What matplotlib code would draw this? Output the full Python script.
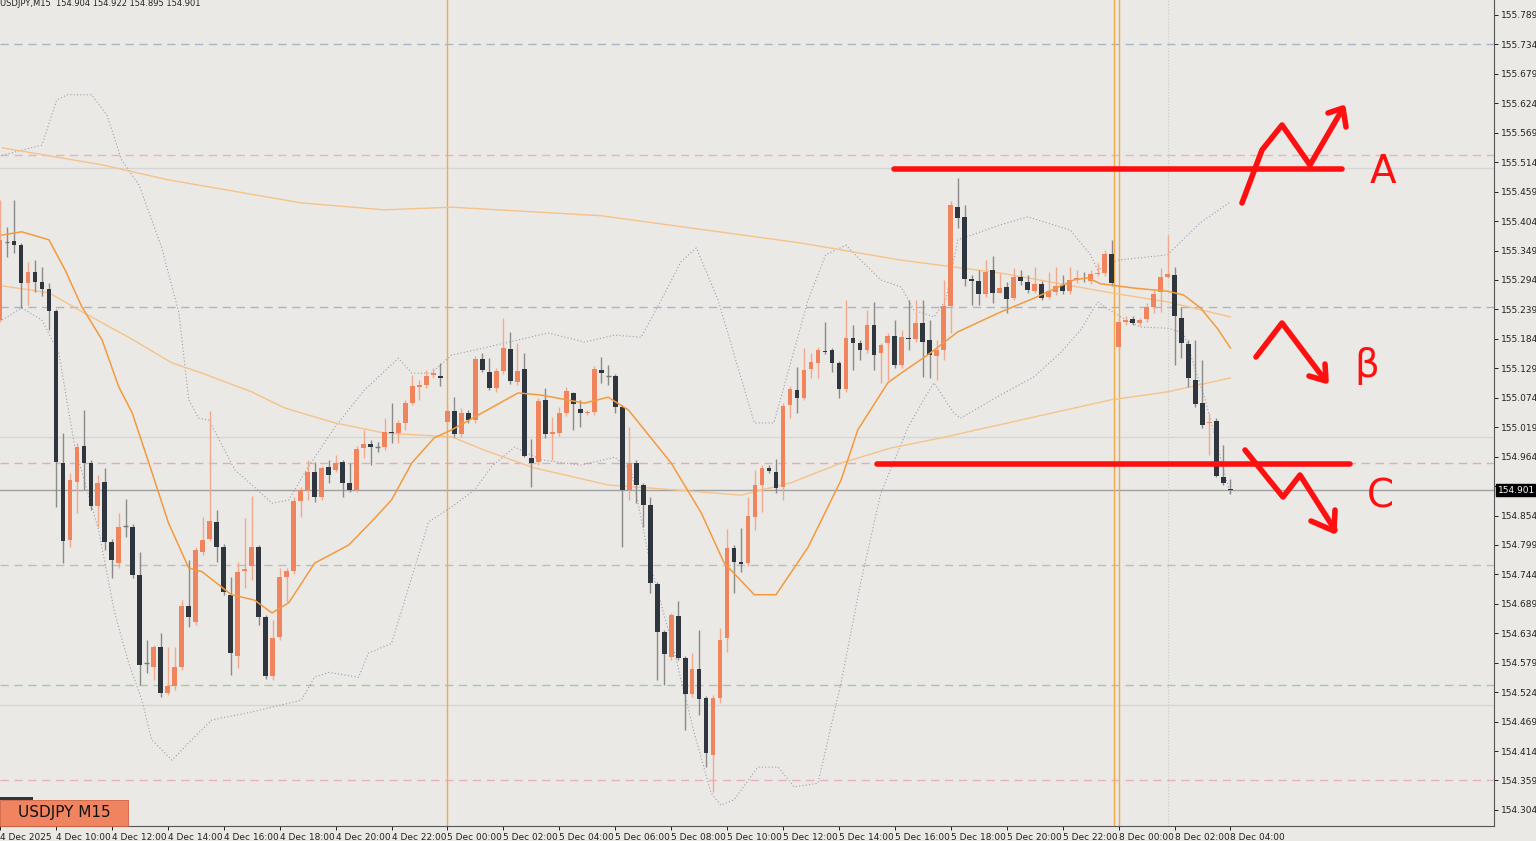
import matplotlib
matplotlib.use('Agg')
import matplotlib.pyplot as plt
import numpy as np

BG = '#EBE9E5'
BULL = '#F0845C'
BEAR = '#2F363E'
BULL_WICK = '#F2A88C'
BEAR_WICK = '#8A8A8A'
RED = '#FF1010'

# ── OHLC, 15-minute bars from 4 Dec 08:00 ────────────────────────────────────
opens = [155.219, 155.365, 155.367, 155.359, 155.288, 155.309, 155.290, 155.277, 155.236, 154.952,
         154.808, 154.917, 154.984, 154.952, 154.872, 154.917, 154.805, 154.765, 154.834, 154.833,
         154.743, 154.579, 154.571, 154.608, 154.522, 154.536, 154.571, 154.685, 154.655, 154.786,
         154.810, 154.842, 154.795, 154.706, 154.592, 154.750, 154.760, 154.795, 154.664, 154.554,
         154.627, 154.739, 154.750, 154.881, 154.902, 154.935, 154.889, 154.945, 154.939, 154.954,
         154.915, 154.902, 154.980, 154.988, 154.982, 154.982, 155.010, 155.008, 155.027, 155.064,
         155.094, 155.098, 155.116, 155.115, 155.029, 155.049, 155.006, 155.046, 155.032, 155.146,
         155.122, 155.092, 155.124, 155.165, 155.103, 155.128, 154.961, 154.954, 155.070, 155.006,
         155.008, 155.046, 155.083, 155.053, 155.046, 155.047, 155.126, 155.115, 155.115, 155.057,
         154.902, 154.952, 154.911, 154.874, 154.726, 154.636, 154.590, 154.666, 154.588, 154.521,
         154.567, 154.513, 154.407, 154.513, 154.625, 154.793, 154.767, 154.765, 154.851, 154.911,
         154.943, 154.935, 154.907, 155.060, 155.088, 155.074, 155.128, 155.139, 155.161, 155.163,
         155.139, 155.090, 155.186, 155.176, 155.163, 155.210, 155.158, 155.176, 155.189, 155.135,
         155.186, 155.184, 155.214, 155.182, 155.152, 155.163, 155.245, 155.430, 155.412, 155.296,
         155.292, 155.268, 155.313, 155.270, 155.281, 155.260, 155.300, 155.290, 155.273, 155.287,
         155.262, 155.272, 155.285, 155.273, 155.294, 155.298, 155.292, 155.305, 155.307, 155.343,
         155.169, 155.216, 155.221, 155.214, 155.221, 155.244, 155.272, 155.300, 155.303, 155.223,
         155.174, 155.107, 155.064, 155.027, 155.031, 154.926, 154.904]
closes = [155.369, 155.365, 155.359, 155.288, 155.309, 155.290, 155.277, 155.236, 154.954, 154.806,
          154.920, 154.982, 154.952, 154.872, 154.915, 154.805, 154.771, 154.833, 154.834, 154.743,
          154.575, 154.579, 154.608, 154.522, 154.536, 154.571, 154.685, 154.664, 154.790, 154.808,
          154.844, 154.795, 154.711, 154.597, 154.749, 154.754, 154.795, 154.664, 154.554, 154.625,
          154.739, 154.750, 154.881, 154.902, 154.935, 154.889, 154.943, 154.930, 154.952, 154.915,
          154.902, 154.978, 154.988, 154.982, 154.982, 155.010, 155.008, 155.027, 155.064, 155.096,
          155.098, 155.115, 155.120, 155.111, 155.049, 155.006, 155.046, 155.032, 155.146, 155.126,
          155.092, 155.124, 155.167, 155.105, 155.124, 154.965, 154.952, 155.068, 155.006, 155.010,
          155.046, 155.087, 155.062, 155.046, 155.047, 155.128, 155.120, 155.115, 155.057, 154.902,
          154.952, 154.911, 154.874, 154.728, 154.636, 154.595, 154.668, 154.588, 154.521, 154.567,
          154.511, 154.410, 154.513, 154.621, 154.793, 154.767, 154.763, 154.853, 154.911, 154.943,
          154.937, 154.905, 155.059, 155.090, 155.074, 155.126, 155.141, 155.163, 155.160, 155.139,
          155.090, 155.186, 155.176, 155.163, 155.210, 155.154, 155.173, 155.189, 155.135, 155.188,
          155.184, 155.214, 155.178, 155.154, 155.163, 155.245, 155.434, 155.410, 155.296, 155.292,
          155.268, 155.309, 155.270, 155.279, 155.258, 155.300, 155.292, 155.275, 155.287, 155.260,
          155.273, 155.283, 155.273, 155.294, 155.298, 155.296, 155.305, 155.307, 155.343, 155.288,
          155.216, 155.219, 155.214, 155.219, 155.244, 155.268, 155.300, 155.305, 155.227, 155.176,
          155.111, 155.062, 155.023, 155.029, 154.928, 154.915, 154.901]
highs = [155.443, 155.393, 155.443, 155.363, 155.328, 155.331, 155.318, 155.288, 155.240, 155.008,
         154.933, 154.989, 155.051, 154.958, 154.930, 154.943, 154.810, 154.859, 154.885, 154.838,
         154.786, 154.621, 154.612, 154.635, 154.608, 154.608, 154.696, 154.771, 154.795, 154.851,
         155.049, 154.864, 154.801, 154.739, 154.767, 154.849, 154.890, 154.799, 154.668, 154.659,
         154.756, 154.756, 154.889, 154.907, 154.958, 154.954, 154.947, 154.958, 154.967, 154.958,
         154.952, 154.984, 155.014, 154.995, 154.991, 155.036, 155.064, 155.032, 155.070, 155.116,
         155.107, 155.126, 155.130, 155.139, 155.060, 155.075, 155.055, 155.051, 155.152, 155.158,
         155.148, 155.130, 155.223, 155.197, 155.176, 155.158, 154.997, 155.074, 155.092, 155.038,
         155.057, 155.094, 155.085, 155.070, 155.051, 155.133, 155.150, 155.135, 155.118, 155.060,
         155.019, 154.958, 154.915, 154.889, 154.730, 154.640, 154.672, 154.694, 154.592, 154.597,
         154.640, 154.517, 154.519, 154.644, 154.829, 154.799, 154.831, 154.889, 154.939, 154.948,
         154.948, 154.960, 155.064, 155.096, 155.131, 155.167, 155.158, 155.169, 155.216, 155.167,
         155.143, 155.257, 155.210, 155.182, 155.238, 155.253, 155.176, 155.195, 155.219, 155.201,
         155.257, 155.257, 155.257, 155.219, 155.182, 155.294, 155.442, 155.485, 155.434, 155.303,
         155.313, 155.331, 155.339, 155.307, 155.290, 155.316, 155.313, 155.303, 155.318, 155.292,
         155.309, 155.318, 155.303, 155.318, 155.313, 155.309, 155.313, 155.326, 155.350, 155.369,
         155.223, 155.227, 155.227, 155.223, 155.251, 155.275, 155.316, 155.378, 155.318, 155.244,
         155.182, 155.182, 155.145, 155.046, 155.036, 154.986, 154.922]
lows = [155.216, 155.337, 155.344, 155.242, 155.247, 155.272, 155.264, 155.201, 154.870, 154.765,
        154.795, 154.859, 154.902, 154.864, 154.833, 154.790, 154.737, 154.756, 154.814, 154.737,
        154.537, 154.560, 154.547, 154.515, 154.519, 154.528, 154.565, 154.646, 154.650, 154.780,
        154.806, 154.767, 154.706, 154.556, 154.569, 154.719, 154.734, 154.650, 154.549, 154.547,
        154.621, 154.692, 154.745, 154.851, 154.883, 154.879, 154.883, 154.915, 154.935, 154.889,
        154.898, 154.898, 154.961, 154.948, 154.973, 154.976, 154.989, 154.989, 155.014, 155.060,
        155.070, 155.092, 155.111, 155.096, 155.023, 155.001, 155.001, 155.027, 155.027, 155.122,
        155.088, 155.085, 155.118, 155.100, 155.098, 154.963, 154.907, 154.948, 154.999, 154.958,
        155.003, 155.040, 155.014, 155.019, 155.042, 155.042, 155.102, 155.098, 155.046, 154.795,
        154.883, 154.877, 154.833, 154.709, 154.547, 154.537, 154.584, 154.584, 154.453, 154.515,
        154.481, 154.384, 154.338, 154.504, 154.599, 154.709, 154.749, 154.760, 154.827, 154.861,
        154.933, 154.896, 154.883, 155.036, 155.046, 155.070, 155.111, 155.111, 155.156, 155.122,
        155.074, 155.085, 155.126, 155.145, 155.158, 155.126, 155.102, 155.107, 155.130, 155.130,
        155.163, 155.178, 155.113, 155.111, 155.107, 155.145, 155.195, 155.391, 155.283, 155.247,
        155.247, 155.262, 155.251, 155.270, 155.232, 155.257, 155.285, 155.270, 155.270, 155.257,
        155.258, 155.266, 155.268, 155.268, 155.288, 155.290, 155.287, 155.301, 155.301, 155.283,
        155.163, 155.210, 155.210, 155.208, 155.216, 155.232, 155.234, 155.298, 155.135, 155.148,
        155.094, 155.057, 155.017, 154.967, 154.926, 154.911, 154.895]

# ── Indicators (bar index, price) ────────────────────────────────────────────
ma_fast_x = [0.3, 3.1, 7.0, 9.3, 11.7, 14.6, 17.0, 18.9, 21.3, 24.1, 27.0, 28.9, 33.1, 36.4, 38.9, 41.3,
             45.0, 49.9, 53.1, 56.0, 58.9, 62.1, 64.6, 67.9, 74.1, 77.4, 83.6, 87.0, 89.9, 96.0, 100.3,
             103.6, 107.9, 111.0, 115.6, 120.3, 122.7, 127.0, 128.9, 132.7, 137.0, 143.1, 147.9, 153.6,
             155.6, 157.4, 162.1, 167.0, 169.3, 171.7, 174.1, 176.0]
ma_fast_y = [155.378, 155.384, 155.369, 155.313, 155.244, 155.182, 155.094, 155.046, 154.952, 154.840,
             154.756, 154.749, 154.706, 154.696, 154.672, 154.691, 154.765, 154.799, 154.842, 154.883,
             154.952, 154.999, 155.014, 155.038, 155.083, 155.079, 155.064, 155.075, 155.051, 154.952,
             154.859, 154.765, 154.706, 154.706, 154.795, 154.920, 155.014, 155.102, 155.120, 155.154,
             155.197, 155.234, 155.260, 155.294, 155.298, 155.287, 155.279, 155.273, 155.266, 155.242,
             155.204, 155.167]
ma_slow1_x = [0.3, 14.6, 24.1, 43.1, 55.0, 64.6, 86.0, 114.6, 128.9, 143.1, 158.9, 167.0, 176.0]
ma_slow1_y = [155.541, 155.509, 155.481, 155.438, 155.425, 155.430, 155.414, 155.363, 155.331, 155.307,
              155.270, 155.253, 155.225]
ma_slow2_x = [0.3, 7.0, 12.1, 18.4, 24.6, 28.9, 36.0, 40.7, 47.9, 55.0, 64.6, 69.3, 76.4, 87.0, 96.4,
              106.0, 113.1, 120.3, 127.4, 134.6, 147.9, 158.9, 167.0, 176.0]
ma_slow2_y = [155.283, 155.270, 155.232, 155.187, 155.139, 155.120, 155.085, 155.055, 155.027, 155.008,
              155.001, 154.976, 154.943, 154.911, 154.902, 154.892, 154.915, 154.952, 154.980, 154.999,
              155.038, 155.070, 155.085, 155.111]
bb_up_x = [0.3, 6.0, 8.1, 9.6, 13.1, 15.3, 17.4, 19.9, 23.1, 25.6, 27.0, 28.4, 29.9, 33.6, 36.4, 38.9,
           41.3, 44.1, 47.9, 52.1, 57.0, 58.9, 61.7, 64.6, 67.9, 74.1, 78.4, 83.6, 87.9, 91.7, 94.6,
           97.4, 99.6, 102.7, 107.9, 110.7, 115.6, 118.1, 121.0, 123.1, 126.0, 128.9, 130.7, 133.6,
           135.3, 137.0, 143.1, 147.0, 153.1, 156.0, 157.0, 159.9, 167.0, 171.7, 176.0]
bb_up_y = [155.527, 155.546, 155.630, 155.640, 155.640, 155.602, 155.518, 155.471, 155.356, 155.232,
           155.070, 155.036, 155.032, 154.939, 154.907, 154.877, 154.883, 154.945, 155.019, 155.088,
           155.148, 155.120, 155.120, 155.154, 155.163, 155.182, 155.195, 155.178, 155.191, 155.187,
           155.257, 155.328, 155.354, 155.257, 155.027, 155.027, 155.257, 155.341, 155.359, 155.331,
           155.294, 155.281, 155.238, 155.225, 155.257, 155.369, 155.397, 155.412, 155.387, 155.341,
           155.313, 155.331, 155.341, 155.401, 155.440]
bb_lo_x = [0.3, 3.1, 6.0, 8.4, 10.7, 14.1, 16.4, 18.4, 20.3, 21.7, 24.6, 27.4, 30.3, 36.0, 43.1, 45.0,
           47.0, 51.3, 52.7, 56.0, 57.9, 61.3, 64.6, 67.9, 70.3, 73.6, 77.4, 83.1, 87.9, 90.3, 93.1,
           96.4, 99.3, 101.7, 103.1, 105.0, 108.4, 111.3, 113.6, 117.0, 120.3, 123.1, 126.0, 129.9,
           132.1, 133.6, 136.4, 137.4, 143.1, 147.9, 151.7, 154.6, 157.0, 160.3, 163.1, 167.0, 169.3,
           172.4, 176.0]
bb_lo_y = [155.219, 155.242, 155.219, 155.158, 154.982, 154.827, 154.672, 154.579, 154.509, 154.435,
           154.397, 154.435, 154.472, 154.487, 154.509, 154.552, 154.561, 154.552, 154.597, 154.615,
           154.696, 154.842, 154.870, 154.902, 154.945, 154.982, 154.958, 154.948, 154.963, 154.939,
           154.758, 154.602, 154.448, 154.336, 154.313, 154.323, 154.384, 154.384, 154.347, 154.354,
           154.541, 154.728, 154.896, 155.019, 155.070, 155.102, 155.046, 155.036, 155.079, 155.113,
           155.158, 155.201, 155.253, 155.225, 155.206, 155.204, 155.195, 155.070, 154.892]

dashed_levels = [155.734, 155.528, 155.244, 154.952, 154.762, 154.537, 154.360]
dashed_colors = ['#A9B4C4', '#E8B4C0', '#A4B6CE', '#E8A8BC', '#BDBDBD', '#A6C8A6', '#E8B0C0']
solid_levels = [155.503, 155.001, 154.500]
last_price = 154.901
level_a = 155.501
level_c = 154.950
day_lines = [64.0, 159.3, 160.0]

tick_bars = list(range(0, 177, 8))
tick_texts = ['4 Dec 2025'] + ['4 Dec %02d:00' % h for h in range(10, 24, 2)] + \
             ['5 Dec %02d:00' % h for h in range(0, 24, 2)] + ['8 Dec %02d:00' % h for h in range(0, 5, 2)]
price_ticks = [round(154.304 + 0.055 * k, 3) for k in range(28)]

# ── Figure ────────────────────────────────────────────────────────────────────
W, H = 1536, 841
fig = plt.figure(figsize=(W / 100, H / 100), dpi=100, facecolor=BG)
ax = fig.add_axes([0, 15 / H, 1494 / W, 826 / H], facecolor=BG)
ax.set_xlim(0.286, 213.7)
ax.set_ylim(154.274, 155.817)

for y, c in zip(dashed_levels, dashed_colors):
    ax.axhline(y, color=c, lw=1, ls=(0, (6, 4)), zorder=1)
for y in solid_levels:
    ax.axhline(y, color='#D6D6D6', lw=1, zorder=1)
ax.axhline(last_price, color='#A0A0A0', lw=1, zorder=1)
for xv in day_lines:
    ax.axvline(xv, color='#F5A94A', lw=1, zorder=1)
ax.axvline(167.1, color='#C8C8C8', lw=0.8, ls=':', zorder=1)

ax.plot(bb_up_x, bb_up_y, color='#9C9CB0', lw=0.8, ls=(0, (1, 2)), zorder=2)
ax.plot(bb_lo_x, bb_lo_y, color='#9C9CB0', lw=0.8, ls=(0, (1, 2)), zorder=2)
ax.plot(ma_slow1_x, ma_slow1_y, color='#F6C28A', lw=1, zorder=2)
ax.plot(ma_slow2_x, ma_slow2_y, color='#F6C28A', lw=1, zorder=2)

o, c, hi, lo = map(np.array, (opens, closes, highs, lows))
idx = np.arange(len(o))
up = c > o
dn = c < o
eq = c == o
ax.vlines(idx[up], lo[up], hi[up], color=BULL_WICK, lw=1, zorder=3)
ax.vlines(idx[~up], lo[~up], hi[~up], color=BEAR_WICK, lw=1, zorder=3)
ax.bar(idx[up], (c - o)[up], bottom=o[up], width=0.68, color=BULL, zorder=4)
ax.bar(idx[dn], (o - c)[dn], bottom=c[dn], width=0.68, color=BEAR, zorder=4)
ax.hlines(c[eq], idx[eq] - 0.34, idx[eq] + 0.34, color='#777777', lw=1, zorder=4)

ax.plot(ma_fast_x, ma_fast_y, color='#F39A3E', lw=1.1, zorder=5)

# drawn levels
ax.hlines(level_a, 127.9, 192.0, color=RED, lw=4, zorder=6, capstyle='round')
ax.hlines(level_c, 125.4, 193.1, color=RED, lw=4, zorder=6, capstyle='round')

# hand-drawn arrows and letters (pixel positions of the annotations)
def px(xs, ys):
    return [x / W for x in xs], [1 - y / H for y in ys]

strokes = [
    ([1242, 1262, 1282, 1310, 1342], [203, 150, 125, 165, 110]),
    ([1328, 1343, 1346], [113, 108, 127]),
    ([1256, 1282, 1325], [357, 323, 380]),
    ([1309, 1326, 1325], [376, 381, 364]),
    ([1245, 1283, 1300, 1335], [450, 497, 475, 530]),
    ([1311, 1334, 1335], [521, 531, 510]),
]
for xs, ys in strokes:
    fx, fy = px(xs, ys)
    fig.add_artist(plt.Line2D(fx, fy, color=RED, lw=4, solid_capstyle='round',
                              solid_joinstyle='round', transform=fig.transFigure))
for t, x, y in [('A', 1383, 172), ('β', 1367, 366), ('C', 1380, 497)]:
    fig.text(x / W, 1 - y / H, t, color=RED, fontsize=28, ha='center', va='center')

# axes styling
for s in ['top', 'left']:
    ax.spines[s].set_visible(False)
ax.spines['right'].set_color('#555555')
ax.spines['bottom'].set_color('#555555')
ax.yaxis.tick_right()
ax.set_yticks(price_ticks)
# the tick nearest the last price sits under the price box
ax.set_yticklabels(['' if abs(p - last_price) < 0.02 else '%.3f' % p for p in price_ticks],
                   fontsize=6.5, color='#222222')
ax.tick_params(axis='y', length=3, width=0.6, pad=2)
ax.set_xticks(tick_bars)
ax.set_xticklabels(tick_texts, fontsize=6.5, color='#222222', ha='left')
ax.tick_params(axis='x', length=3, width=0.6, pad=2)

ax.text(1.0025, last_price, '%.3f' % last_price, transform=ax.get_yaxis_transform(),
        fontsize=6.5, color='white', va='center', ha='left',
        bbox=dict(boxstyle='square,pad=0.15', fc='black', ec='black'), clip_on=False)

fig.text(0.0, 1 - 4 / H, 'USDJPY,M15  154.904 154.922 154.895 154.901', fontsize=6,
         color='#222222', va='center', ha='left')
fig.add_artist(plt.Rectangle((0, 1 - 826 / H), 128 / W, 26 / H, fc='#F08460', ec='#D06040',
                             lw=0.6, transform=fig.transFigure))
fig.add_artist(plt.Rectangle((0, 1 - 800 / H), 33 / W, 3 / H, fc='#2F363E', ec='none',
                             transform=fig.transFigure))
fig.text(64 / W, 1 - 813 / H, 'USDJPY M15', fontsize=11, color='#111111', ha='center', va='center')

fig.savefig('out.png', dpi=100, facecolor=BG)
